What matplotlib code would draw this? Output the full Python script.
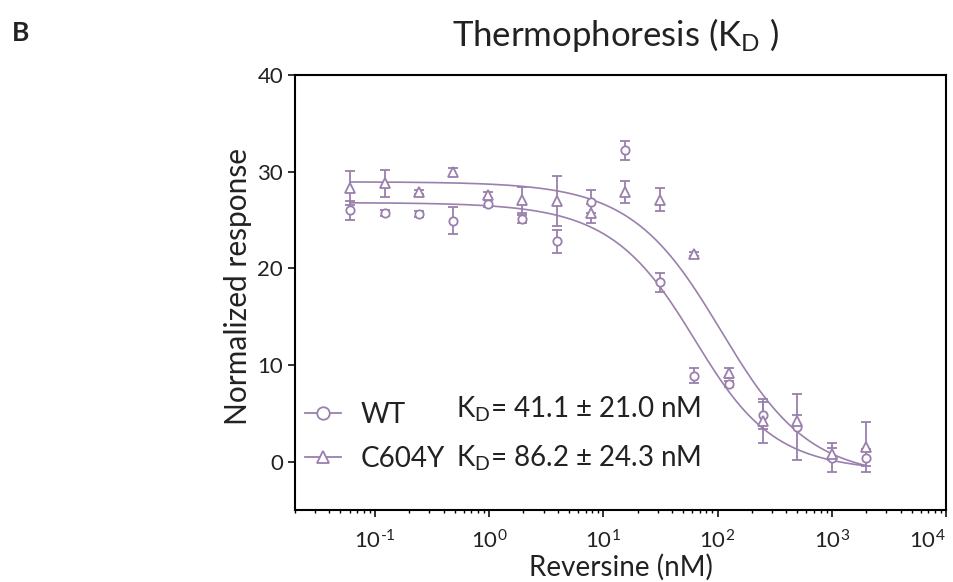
# -*- coding: utf-8 -*-
"""Thermophoresis (KD): WT vs C604Y dose-response with binding fits."""
import numpy as np
import matplotlib
matplotlib.use('Agg')
import matplotlib.pyplot as plt
from matplotlib.lines import Line2D
from matplotlib.ticker import LogLocator, NullFormatter, FuncFormatter

plt.rcParams['font.family'] = ['Lato', 'DejaVu Sans']
plt.rcParams['mathtext.default'] = 'regular'
plt.rcParams['axes.unicode_minus'] = False

# Reversine concentration (nM), 2-fold dilution series
conc = [0.061, 0.122, 0.244, 0.488, 0.977, 1.95, 3.91, 7.81,
        15.6, 31.25, 62.5, 125, 250, 500, 1000, 2000]

wt = [26.0, 25.75, 25.6, 24.9, 26.7, 25.1, 22.8, 26.9,
      32.2, 18.55, 8.9, 8.0, 4.8, 3.6, 0.4, 0.4]
wt_err = [1.0, 0.3, 0.3, 1.4, 0.4, 0.4, 1.2, 1.2,
          1.0, 1.0, 0.8, 0.3, 1.4, 3.4, 1.5, 0.9]

mut = [28.3, 28.8, 27.9, 30.0, 27.6, 27.1, 27.0, 25.7,
       27.9, 27.1, 21.5, 9.2, 4.2, 4.2, 0.8, 1.55]
mut_err = [1.8, 1.4, 0.2, 0.4, 0.3, 1.35, 2.6, 1.0,
           1.1, 1.2, 0.2, 0.5, 2.3, 0.6, 0.6, 2.6]

# fit parameters (KD model): KD, top, bottom
kd_wt, top_wt, bot_wt = 41.1, 26.8, -1.0
kd_mut, top_mut, bot_mut = 86.2, 28.95, -1.7
target = 40.0

labels = ['WT', 'C604Y']
kd_text = [r'K$_{D}$= 41.1 $\pm$ 21.0 nM', r'K$_{D}$= 86.2 $\pm$ 24.3 nM']

COLOR = '#9a80ad'
TXT = '#222222'


def kd_model(c, kd, top, bot, t=target):
    s = c + t + kd
    fb = (s - np.sqrt(s ** 2 - 4 * c * t)) / (2 * t)
    return top + (bot - top) * fb


def fmt_pow(v, pos):
    e = int(round(np.log10(v)))
    # hyphen (U+2010) instead of the long mathtext minus
    return r'10$^{%s}$' % str(e).replace('-', '\u2010')


fig = plt.figure(figsize=(9.54, 5.82), dpi=100)
ax = fig.add_axes([295 / 954, 72 / 582, 651 / 954, 435 / 582])

xs = np.logspace(np.log10(conc[0]), np.log10(conc[-1]), 300)
ax.plot(xs, kd_model(xs, kd_wt, top_wt, bot_wt), color=COLOR, lw=1.2)
ax.plot(xs, kd_model(xs, kd_mut, top_mut, bot_mut), color=COLOR, lw=1.2)

ax.errorbar(conc, wt, yerr=wt_err, fmt='o', mfc='white', mec=COLOR,
            ecolor=COLOR, ms=6, mew=1.3, elinewidth=1.3, capsize=3.5, capthick=1.3)
ax.errorbar(conc, mut, yerr=mut_err, fmt='^', mfc='white', mec=COLOR,
            ecolor=COLOR, ms=6.5, mew=1.3, elinewidth=1.3, capsize=3.5, capthick=1.3)

ax.set_xscale('log')
ax.set_xlim(0.02, 1e4)
ax.set_ylim(-5, 40)
ax.set_yticks([0, 10, 20, 30, 40])
ax.set_xticks([0.1, 1, 10, 100, 1000, 10000])
ax.xaxis.set_major_formatter(FuncFormatter(fmt_pow))
ax.xaxis.set_minor_locator(LogLocator(base=10, subs=np.arange(2, 10), numticks=20))
ax.xaxis.set_minor_formatter(NullFormatter())

for s in ax.spines.values():
    s.set_linewidth(1.5)
ax.tick_params(axis='both', which='major', direction='out', length=5, width=1.3,
               labelsize=16, colors=TXT)
ax.tick_params(axis='x', which='minor', direction='out', length=2.5, width=1.0)
ax.tick_params(axis='x', pad=9)

ax.set_xlabel('Reversine (nM)', fontsize=20, labelpad=1, color=TXT)
ax.set_ylabel('Normalized response', fontsize=21.5, color=TXT)
ax.yaxis.set_label_coords(-0.066, 0.514)

fig.canvas.draw()
for tick in ax.xaxis.get_major_ticks():
    if np.isclose(tick.get_loc(), 1e4):
        tick.label1.set_horizontalalignment('right')
        tick.label1.set_x(tick.get_loc())

handles = [Line2D([], [], color=COLOR, marker=m, mfc='white', mec=COLOR,
                  ms=9, mew=1.3, lw=1.3) for m in ['o', '^']]
leg = ax.legend(handles, labels, loc='lower left', bbox_to_anchor=(0.015, 0.087),
                frameon=False, fontsize=20, handlelength=1.3, handletextpad=0.7,
                labelspacing=0.65, borderaxespad=0, borderpad=0)
for t in leg.get_texts():
    t.set_color(TXT)

for i, txt in enumerate(kd_text):
    ax.text(0.247, 0.2126 - i * 0.1128, txt, transform=ax.transAxes,
            fontsize=20, color=TXT, va='baseline', ha='left')

fig.text(615 / 954, 1 - 35 / 582, r'Thermophoresis (K$_{D}$ )', fontsize=25,
         ha='center', va='center', color=TXT)
fig.text(12 / 954, 1 - 33 / 582, 'B', fontsize=19, fontweight='bold',
         ha='left', va='center', color=TXT)

fig.savefig('out.png', dpi=100)
